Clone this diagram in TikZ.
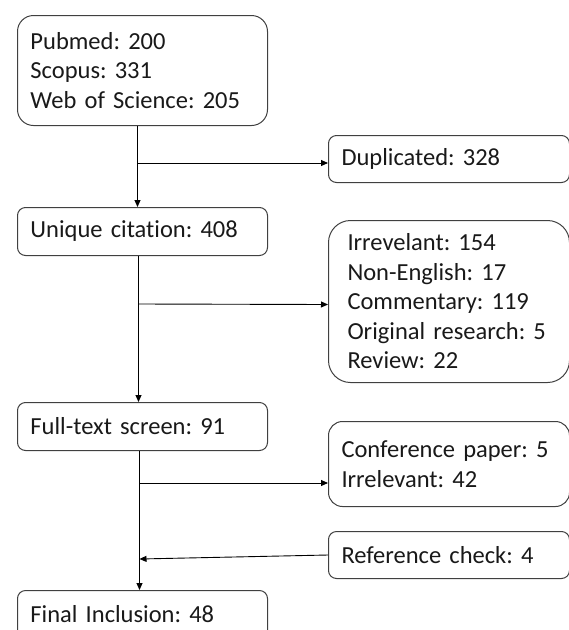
\documentclass[tikz,border=0pt]{standalone}
\usepackage{fontspec}
\setmainfont{Carlito}[Ligatures=NoCommon]
\usetikzlibrary{arrows.meta}

\begin{document}
\frenchspacing
\begin{tikzpicture}[x=1pt,y=1pt,
    flowbox/.style={draw=black!75, line width=1pt, align=left, anchor=north west,
      inner xsep=13pt, inner ysep=0pt, text=black!90,
      font=\fontsize{24.5}{29.5}\selectfont},
    leftbox/.style={flowbox, text width=224pt},
    rightbox/.style={flowbox, text width=215pt},
    flowarrow/.style={-{Triangle[length=7pt,width=6pt]}, line width=0.9pt}]
\useasboundingbox (0,0) rectangle (569,-630);
\clip (0,0) rectangle (569,-630);

% boxes, placed by their top left corner
\node[leftbox, minimum height=110pt, rounded corners=16pt] (search) at (17,-15)
     {Pubmed: 200\\Scopus: 331\\Web of Science: 205};
\node[rightbox, minimum height=47pt, rounded corners=8pt] (duplicated) at (328,-135)
     {Duplicated: 328};
\node[leftbox, minimum height=48pt, rounded corners=8pt] (unique) at (17,-207)
     {Unique citation: 408};
\node[rightbox, inner xsep=19pt, text width=203pt, minimum height=162pt, rounded corners=22pt] (excluded) at (328,-220)
     {Irrevelant: 154\\Non-English: 17\\Commentary: 119\\Original research: 5\\Review: 22};
\node[leftbox, minimum height=48pt, rounded corners=8pt] (fulltext) at (17,-402)
     {Full-text screen: 91};
\node[rightbox, minimum height=85pt, rounded corners=14pt] (ftexcluded) at (328,-421)
     {Conference paper: 5\\Irrelevant: 42};
\node[rightbox, minimum height=47pt, rounded corners=8pt] (refcheck) at (328,-531)
     {Reference check: 4};
\node[leftbox, minimum height=48pt, rounded corners=8pt] (final) at (17,-590)
     {Final Inclusion: 48};

% main line and side branches
\draw[flowarrow] ([xshift=-5pt]search.south) -- ([xshift=-5pt]unique.north);
\draw[flowarrow] ([xshift=-5pt]search.south |- 0,-163) -- ([yshift=-4pt]duplicated.west);
\draw[flowarrow] ([xshift=-4pt]unique.south) -- ([xshift=-4pt]fulltext.north);
\draw[flowarrow] ([xshift=-4pt]unique.south |- 0,-304) -- ([yshift=-3pt]excluded.west);
\draw[flowarrow] ([xshift=-3pt]fulltext.south) -- ([xshift=-3pt]final.north);
\draw[flowarrow] ([xshift=-3pt]fulltext.south |- 0,-483) -- ([yshift=-19pt]ftexcluded.west);
\coordinate (merge) at ([xshift=-3pt]fulltext.south |- 0,-559);
\draw[flowarrow] (refcheck.west) -- (merge);
\end{tikzpicture}
\end{document}
